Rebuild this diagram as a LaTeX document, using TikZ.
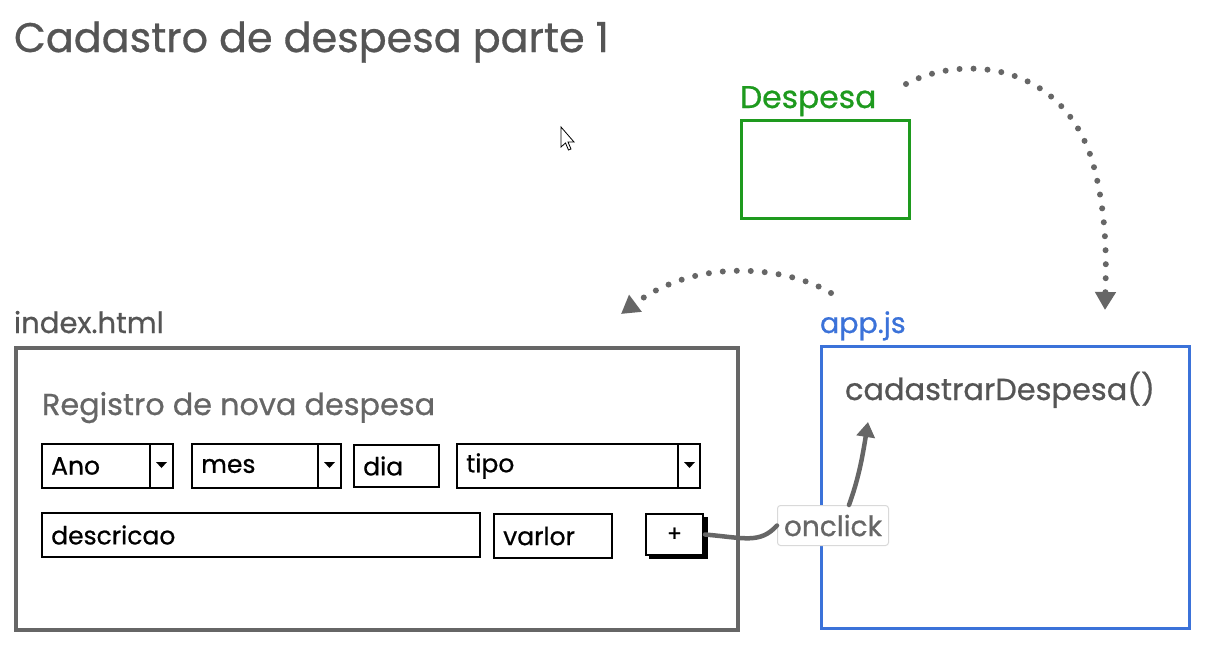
\documentclass[tikz,border=0pt]{standalone}
\usepackage{fontspec}
\setmainfont{Poppins}[FakeBold=0.7]
\usetikzlibrary{arrows.meta}
\definecolor{tgray}{HTML}{555555}
\definecolor{bgray}{HTML}{666666}
\definecolor{dgreen}{HTML}{1E9A1E}
\definecolor{jsblue}{HTML}{3B72D9}
\definecolor{arrgray}{HTML}{666666}
\tikzset{
  lbl/.style={anchor=base west, inner sep=0pt, outer sep=0pt},
  field/.style={draw=black, line width=2.6pt, anchor=north west, minimum width=#1, inner sep=0pt, outer sep=0pt, minimum height=44pt},
  ftext/.style={anchor=west, inner sep=0pt, font=\fontsize{25}{28}\selectfont, text=black},
  dotarrow/.style={arrgray, line width=6pt, line cap=round, dash pattern=on 0pt off 14pt, -{Triangle[length=18pt,width=20pt,line cap=butt]}},
}
\begin{document}
\begin{tikzpicture}[x=1pt,y=-1pt]
\useasboundingbox (0,0) rectangle (1212,651);
\fill[white] (0,0) rectangle (1212,651);
% title
\node[lbl, text=tgray, font=\fontsize{41.3}{46}\selectfont] (title) at (14,52) {Cadastro de despesa parte 1};
% cursor
\draw[black, line width=0.8pt, fill=white] (561,127) -- (561,147) -- (565.5,143) -- (568.5,150) -- (571,149) -- (568,142) -- (574,142) -- cycle;
\coordinate (cursor) at (561,127);
% Despesa
\node[lbl, text=dgreen, font=\fontsize{31.4}{34}\selectfont] (despL) at (740,108) {Despesa};
\draw[dgreen, line width=3pt] (741,120) rectangle (909,218);
\coordinate (despTR) at (909,120);
% index.html
\node[lbl, text=tgray, font=\fontsize{29.1}{32}\selectfont] (idxL) at (14,333) {index.html};
\node[draw=bgray, line width=3.2pt, anchor=north west, minimum width=722pt, minimum height=282pt, inner sep=0pt, outer sep=0pt] (idx) at (16,348) {};
\node[lbl, text=bgray, font=\fontsize{30.3}{33}\selectfont] (reg) at (42,415) {Registro de nova despesa};
% row 1
\node[field=131pt] (ano) at (42,444) {};
\node[ftext] at ([xshift=9pt]ano.west) {Ano};
\draw[line width=1.8pt] (150,444) -- (150,488);
\fill (156,462) -- (167,462) -- (161.5,468) -- cycle;
\node[field=149pt] (mes) at (192,444) {};
\node[ftext] at ([xshift=9pt]mes.west) {mes};
\draw[line width=1.8pt] (318,444) -- (318,488);
\fill (324,462) -- (335,462) -- (329.5,468) -- cycle;
\node[field=85pt, minimum height=42pt] (dia) at (354,445) {};
\node[ftext] at ([xshift=9pt]dia.west) {dia};
\node[field=243pt] (tipo) at (457,444) {};
\node[ftext] at ([xshift=9pt]tipo.west) {tipo};
\draw[line width=1.8pt] (678,444) -- (678,488);
\fill (684,462) -- (695,462) -- (689.5,468) -- cycle;
% row 2
\node[field=438pt] (desc) at (42,513) {};
\node[ftext] at ([xshift=9pt]desc.west) {descricao};
\node[field=118pt] (val) at (494,514) {};
\node[ftext] at ([xshift=9pt]val.west) {varlor};
\draw[black, line width=3.5pt] (649,557) -- (706,557) -- (706,517);
\node[field=57pt, minimum height=41pt] (plus) at (646,514) {};
\node[inner sep=0pt, font=\fontsize{22}{24}\selectfont] at (plus.center) {+};
% app.js
\node[lbl, text=jsblue, font=\fontsize{28.5}{32}\selectfont] (appL) at (820,333) {app.js};
\node[draw=jsblue, line width=3pt, anchor=north west, minimum width=368pt, minimum height=282pt, inner sep=0pt, outer sep=0pt] (app) at (821,346) {};
\node[lbl, text=tgray, font=\fontsize{30.4}{33}\selectfont] (cad) at (845,400) {cadastrarDespesa()};
\coordinate (cadB) at (868,422);
% onclick
\node[draw=black!15, fill=white, rounded corners=3pt, line width=1pt, anchor=north west, minimum width=111pt, minimum height=40pt, inner sep=0pt, text=bgray, font=\fontsize{28}{32}\selectfont] (onc) at (777,505) {onclick};
\draw[arrgray, line width=4.5pt, line cap=round] ([xshift=2pt]plus.east) .. controls (745,538) and (760,544) .. (onc.west);
\draw[arrgray, line width=4.5pt, line cap=round, -{Triangle[length=15pt,width=18pt]}] ([xshift=16pt]onc.north) .. controls (858,480) and (862,460) .. (cadB);
% dotted arrows
\coordinate (d1s) at (906,84);
\coordinate (d1e) at (1105,310);
\draw[dotarrow] (d1s) .. controls (960,55) and (1060,60) .. (1092,160) .. controls (1108,215) and (1106,265) .. (d1e);
\coordinate (d2s) at (831,293);
\coordinate (d2e) at (621,314);
\draw[dotarrow] (d2s) .. controls (790,268) and (700,255) .. (d2e);
\end{tikzpicture}
\end{document}
